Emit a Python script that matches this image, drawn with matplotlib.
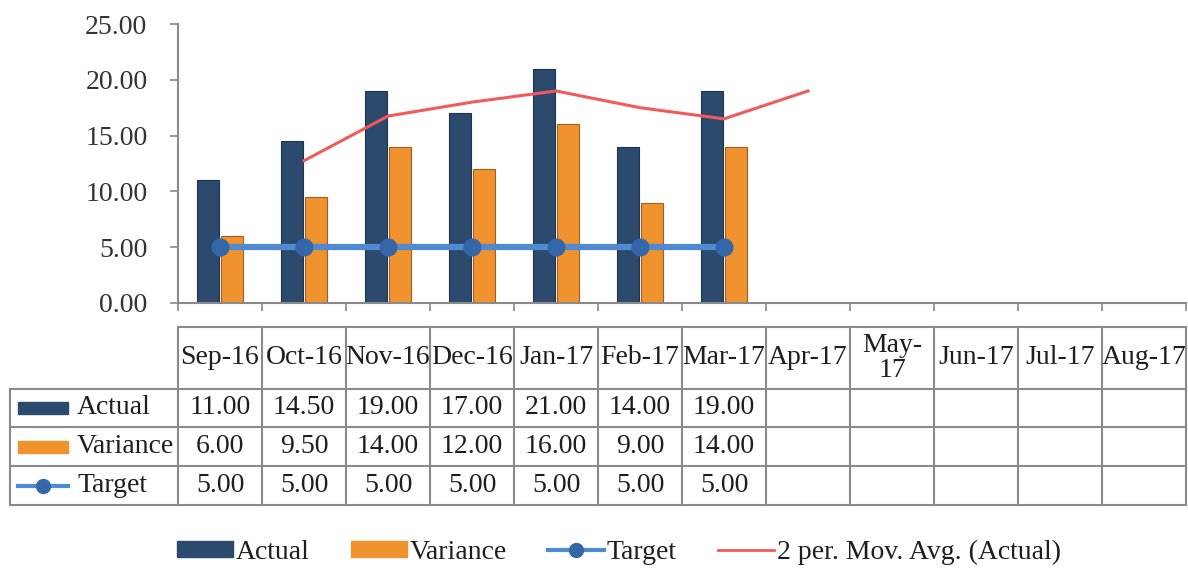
import numpy as np
import matplotlib
matplotlib.use('Agg')
import matplotlib.pyplot as plt
import matplotlib.transforms as mtransforms
from matplotlib.patches import Rectangle, Patch
from matplotlib.lines import Line2D

plt.rcParams['font.family'] = ['Liberation Serif', 'DejaVu Serif']

# data
months = ['Sep-16', 'Oct-16', 'Nov-16', 'Dec-16', 'Jan-17', 'Feb-17', 'Mar-17',
          'Apr-17', 'May-\n17', 'Jun-17', 'Jul-17', 'Aug-17']
actual = [11.00, 14.50, 19.00, 17.00, 21.00, 14.00, 19.00, None, None, None, None, None]
variance = [6.00, 9.50, 14.00, 12.00, 16.00, 9.00, 14.00, None, None, None, None, None]
target = [5.00, 5.00, 5.00, 5.00, 5.00, 5.00, 5.00, None, None, None, None, None]
mov_avg = [None, 12.75, 16.75, 18.00, 19.00, 17.50, 16.50, 19.00, None, None, None, None]

c_actual = '#2b4a6e'
c_var = '#f0922e'
c_target = '#4f8bd0'
c_tmark = '#3567a8'
c_ma = '#f25a5a'
c_grid = '#8a8a8a'
c_text = '#1e1e1e'
fs = 20

def arr(v):
    return np.array([np.nan if x is None else x for x in v], dtype=float)

x = np.arange(len(months))
W, H = 1188, 571
fig = plt.figure(figsize=(W / 100, H / 100), dpi=100)
ax = fig.add_axes([178 / W, 1 - 303 / H, (1186 - 178) / W, (303 - 24) / H])

bw = 0.26
ax.bar(x - 0.14, arr(actual), bw, color=c_actual, edgecolor='#1c3350', linewidth=0.8, zorder=2)
ax.bar(x + 0.14, arr(variance), bw, color=c_var, edgecolor='#a85e18', linewidth=0.8, zorder=2)
ax.plot(x, arr(target), color=c_target, lw=4.5, marker='o', ms=12,
        mfc=c_tmark, mec=c_tmark, zorder=3)
ax.plot(x, arr(mov_avg), color=c_ma, lw=2.2, zorder=4)

ax.set_xlim(-0.5, len(months) - 0.5)
ax.set_ylim(0, 25)
ax.set_yticks(np.arange(0, 26, 5))
ax.set_yticklabels(['%.2f' % v for v in np.arange(0, 26, 5)], fontsize=fs, color='#333333')
ax.set_xticks(np.arange(-0.5, len(months), 1))
ax.set_xticklabels([])
ax.tick_params(axis='both', direction='out', length=6, color=c_grid, width=1.2)
ax.tick_params(axis='y', pad=16)
for s in ['top', 'right']:
    ax.spines[s].set_visible(False)
for s in ['left', 'bottom']:
    ax.spines[s].set_color(c_grid)
    ax.spines[s].set_linewidth(1.5)

# data table under the chart
tr = mtransforms.blended_transform_factory(ax.transData, fig.transFigure)
def fy(px):
    return 1 - px / H

top, hdr_bot = 327, 389
row_edges = [389, 427, 466, 505]
left = -0.5 - 168 / 84
right = len(months) - 0.5
lkw = dict(color=c_grid, lw=1.5, transform=tr, clip_on=False)

ax.add_line(Line2D([-0.5, right], [fy(top), fy(top)], **lkw))
for ye in row_edges:
    ax.add_line(Line2D([left, right], [fy(ye), fy(ye)], **lkw))
for xe in np.arange(-0.5, right + 0.01, 1):
    ax.add_line(Line2D([xe, xe], [fy(top), fy(row_edges[-1])], **lkw))
ax.add_line(Line2D([left, left], [fy(row_edges[0]), fy(row_edges[-1])], **lkw))

for i, m in enumerate(months):
    ax.text(i, fy((top + hdr_bot) / 2), m, transform=tr, ha='center', va='center',
            fontsize=fs, color=c_text, linespacing=0.95)

rows = [('Actual', actual), ('Variance', variance), ('Target', target)]
for r, (name, vals) in enumerate(rows):
    yc = fy((row_edges[r] + row_edges[r + 1]) / 2)
    for i, v in enumerate(vals):
        if v is not None:
            ax.text(i, yc, '%.2f' % v, transform=tr, ha='center', va='center',
                    fontsize=fs, color=c_text)
    ax.text(left + 67 / 84, yc, name, transform=tr, ha='left', va='center',
            fontsize=fs, color=c_text)
    kx0, kx1 = left + 8 / 84, left + 58 / 84
    if r < 2:
        col = c_actual if r == 0 else c_var
        ax.add_patch(Rectangle((kx0, yc - 6 / H), kx1 - kx0, 12 / H, color=col,
                               transform=tr, clip_on=False))
    else:
        ax.add_line(Line2D([kx0, kx1], [yc, yc], color=c_target, lw=3, transform=tr,
                           clip_on=False))
        ax.add_line(Line2D([(kx0 + kx1) / 2], [yc], marker='o', ms=10, mfc=c_tmark,
                           mec=c_tmark, transform=tr, clip_on=False))

handles = [Patch(color=c_actual), Patch(color=c_var),
           Line2D([], [], color=c_target, lw=3, marker='o', ms=10, mfc=c_tmark, mec=c_tmark),
           Line2D([], [], color=c_ma, lw=2)]
fig.legend(handles, ['Actual', 'Variance', 'Target', '2 per. Mov. Avg. (Actual)'],
           loc='center', bbox_to_anchor=(619 / W, 1 - 552 / H), ncol=4, frameon=False,
           fontsize=fs, handlelength=2.0, handletextpad=0.1, columnspacing=1.5,
           handleheight=0.5, labelcolor=c_text)

fig.savefig('out.png', dpi=100, facecolor='white')
